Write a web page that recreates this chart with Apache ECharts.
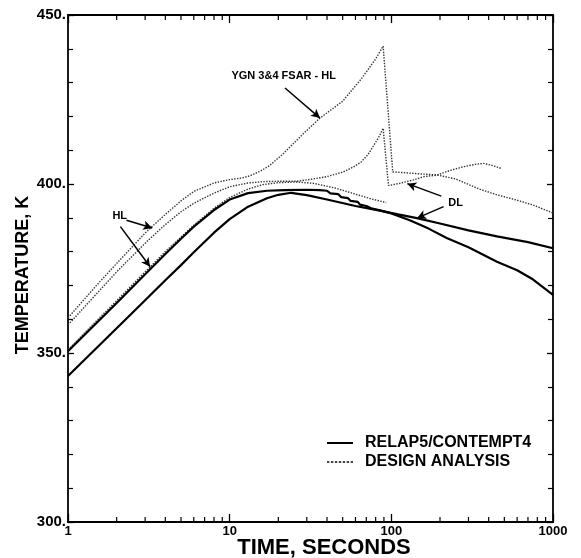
<!DOCTYPE html>
<html>
<head>
<meta charset="utf-8">
<script src="https://cdn.jsdelivr.net/npm/echarts@6/dist/echarts.min.js"></script>
<style>
html,body{margin:0;padding:0;background:#fff;overflow:hidden;}
#c{width:581px;height:558px;}
</style>
</head>
<body>
<div id="c"></div>
<script>
// ---- data ----
const relapHLT = [1,2,3,4,5,6,8,10,13,17,22,30,36,40,42,47,49,54,56,62,64,70,75,85,100,130,170,220,300,450,600,750,1000];
const relapHLV = [350.5,364.8,373.3,379.3,383.8,387.4,392.3,395.4,397.3,398.0,398.2,398.3,398.2,398.0,397.2,397.0,396.1,395.8,395.0,394.7,393.9,393.5,392.8,392.2,391.3,389.3,386.8,384.0,381.3,377.0,374.5,371.8,367.2];

const relapDLT = [1,2,3,4,5,6,8,10,13,17,20,24,30,40,60,85,110,144,200,300,450,700,1000];
const relapDLV = [343.2,357.3,365.6,371.5,376.0,379.8,385.6,389.6,393.3,395.8,396.8,397.4,396.7,395.4,393.5,392.1,391.0,389.9,388.3,386.3,384.5,382.8,381.0];

const ygnHLT = [1,1.5,2,3,4,5,6,8,10,12,13.3,15.5,17.7,21.5,28,36,50,65,80,89,102,150,190,250,350,450,570,750,1000];
const ygnHLV = [360.4,370,376.5,385.5,391,395,397.8,400.3,401.3,401.8,402.4,403.8,405.5,409,414.5,419.4,424.5,431,437,440.8,403.6,403.0,402.7,401.5,398.5,396.8,395.5,393.8,391.4];

const designDLT = [1,1.5,2,3,4,5,6,8,10,13,16,20,26,33,40,50,58,65,72,78,84,89,96,100,113,137,160,190,230,279,330,372,420,480];
const designDLV = [358.3,367.5,374,382.5,388,391.8,394.3,397.3,399.2,400.3,400.7,400.8,400.8,401.5,402.2,403.5,405,406.5,408.8,411.5,414,416.5,399.6,399.7,400.2,401.2,402.2,402.6,404,405.1,405.8,406.1,405.5,404.6];

const design3T = [1,2,3,4,6,8,10,13,16,20,26,33,45,60,75,93];
const design3V = [351,365.5,374,380,387.8,392.8,396,398.5,399.8,400.4,400.6,400.2,398.8,397,395.6,394.5];

const xMinorTicks = [2,3,4,5,6,7,8,9,20,30,40,50,60,70,80,90,200,300,400,500,600,700,800,900];
const xTickLabels = ['1','10','100','1000'];
const yTickLabels = ['300.','350.','400.','450.'];

const legendNames = ['RELAP5/CONTEMPT4','DESIGN ANALYSIS'];
const yTitle = 'TEMPERATURE, K';
const xTitle = 'TIME, SECONDS';
const notes = [
  {text:'YGN 3&4 FSAR - HL', at:[21.6,432.0]},
  {text:'HL', at:[2.09,390.5]},
  {text:'DL', at:[250,394.5]}
];
const arrows = [
  [[22.0,428.4],[36.2,419.5]],
  [[2.30,389.3],[3.32,387.0]],
  [[2.11,387.4],[3.22,375.5]],
  [[203.7,396.4],[125.6,400.1]],
  [[210.5,393.3],[144.1,389.9]]
];

const pair = (ts, vs) => ts.map((t,i)=>[t, vs[i]]);
const FONT = '"Liberation Sans", Arial, sans-serif';

const solidStyle = {color:'#000', width:2.2, type:'solid'};
const dotStyle = {color:'#333', width:1.4, type:[1.4,1.4]};

const solidIcon = 'path://M0,0h26v2h-26z';
let dashParts = '';
for (let i=0;i<7;i++){ dashParts += 'M'+(i*4)+',0h2.4v2h-2.4z '; }
const dashIcon = 'path://' + dashParts.trim();

const chart = echarts.init(document.getElementById('c'), null, {renderer:'canvas', width:581, height:558});

const baseX = {
  type:'log', logBase:10, min:1, max:1000,
  axisLine:{show:true, lineStyle:{color:'#000', width:1.8}},
  axisTick:{show:true, inside:true, length:8, lineStyle:{color:'#000', width:1.3}},
  splitLine:{show:false}
};
const baseY = {
  type:'value', min:300, max:450, interval:50,
  axisLine:{show:true, lineStyle:{color:'#000', width:1.8}},
  axisTick:{show:true, inside:true, length:6, lineStyle:{color:'#000', width:1.3}},
  minorTick:{show:true, splitNumber:5, length:5, lineStyle:{color:'#000', width:1.2}},
  splitLine:{show:false}
};

const option = {
  backgroundColor:'#fff',
  animation:false,
  grid:{left:68, top:15, right:28, bottom:36, containLabel:false, outerBoundsMode:'none'},
  xAxis:[
    Object.assign({}, baseX, {
      position:'bottom',
      axisLabel:{show:true, margin:3, fontFamily:FONT, fontWeight:'bold', fontSize:13, color:'#000', showMinLabel:true, showMaxLabel:true,
        formatter:(v)=>{ const i=[1,10,100,1000].indexOf(Math.round(v)); return i>=0? xTickLabels[i] : ''; }}
    }),
    Object.assign({}, baseX, {position:'top', axisLabel:{show:false}})
  ],
  yAxis:[
    Object.assign({}, baseY, {
      position:'left',
      axisLabel:{show:true, margin:2, fontFamily:FONT, fontWeight:'bold', fontSize:15, color:'#000',
        formatter:(v)=>{ const i=[300,350,400,450].indexOf(v); return i>=0? yTickLabels[i] : ''; }}
    }),
    Object.assign({}, baseY, {position:'right', axisLabel:{show:false}})
  ],
  graphic:[
    {type:'text', x:23, y:275, rotation:Math.PI/2, silent:true,
     style:{text:yTitle, fill:'#000', font:'bold 18px "Liberation Sans", Arial, sans-serif', textAlign:'center', textVerticalAlign:'middle', align:'center', verticalAlign:'middle'}},
    {type:'text', x:324, y:548, silent:true,
     style:{text:xTitle, fill:'#000', font:'bold 22px "Liberation Sans", Arial, sans-serif', textAlign:'center', textVerticalAlign:'middle', align:'center', verticalAlign:'middle'}}
  ],
  legend:{
    show:true,
    orient:'vertical', left:322, top:430,
    itemWidth:26, itemHeight:2, itemGap:3,
    data:[{name:legendNames[0], icon:solidIcon},{name:legendNames[1], icon:dashIcon}],
    textStyle:{fontFamily:FONT, fontWeight:'bold', fontSize:16, color:'#000', padding:[0,0,0,7]},
    selectedMode:false
  },
  series:[
    {name:legendNames[0], type:'line', symbol:'none', data:pair(relapHLT, relapHLV), lineStyle:solidStyle, itemStyle:{color:'#000'}, z:5},
    {name:legendNames[0], type:'line', symbol:'none', data:pair(relapDLT, relapDLV), lineStyle:solidStyle, itemStyle:{color:'#000'}, z:5},
    {name:legendNames[1], type:'line', symbol:'none', data:pair(ygnHLT, ygnHLV), lineStyle:dotStyle, itemStyle:{color:'#444'}, z:4},
    {name:legendNames[1], type:'line', symbol:'none', data:pair(designDLT, designDLV), lineStyle:dotStyle, itemStyle:{color:'#444'}, z:4},
    {name:legendNames[1], type:'line', symbol:'none', data:pair(design3T, design3V), lineStyle:dotStyle, itemStyle:{color:'#444'}, z:4},
    {
      name:'minorX', type:'custom', silent:true, clip:false, z:6,
      data:xMinorTicks.map(t=>[t,300]),
      renderItem:(params, api)=>{
        const t = api.value(0);
        const pb = api.coord([t,300]);
        const pt = api.coord([t,450]);
        const st = {stroke:'#000', lineWidth:1.2};
        return {type:'group', children:[
          {type:'line', shape:{x1:pb[0],y1:pb[1],x2:pb[0],y2:pb[1]-5}, style:st},
          {type:'line', shape:{x1:pt[0],y1:pt[1],x2:pt[0],y2:pt[1]+5}, style:st}
        ]};
      }
    },
    {
      name:'notes', type:'line', data:[], symbol:'none', silent:true, z:7,
      markLine:{
        silent:true, symbol:['none','arrow'], symbolSize:[7,9],
        lineStyle:{color:'#000', width:1.5, type:'solid'},
        label:{show:false},
        data:arrows.map(a=>[{coord:a[0]},{coord:a[1]}])
      },
      markPoint:{
        silent:true, symbol:'circle', symbolSize:0,
        label:{show:true, position:'inside', fontFamily:FONT, fontWeight:'bold', fontSize:11, color:'#000',
          formatter:(p)=>p.name},
        data:notes.map(n=>({name:n.text, coord:n.at}))
      }
    }
  ]
};
chart.setOption(option);
</script>
</body>
</html>
